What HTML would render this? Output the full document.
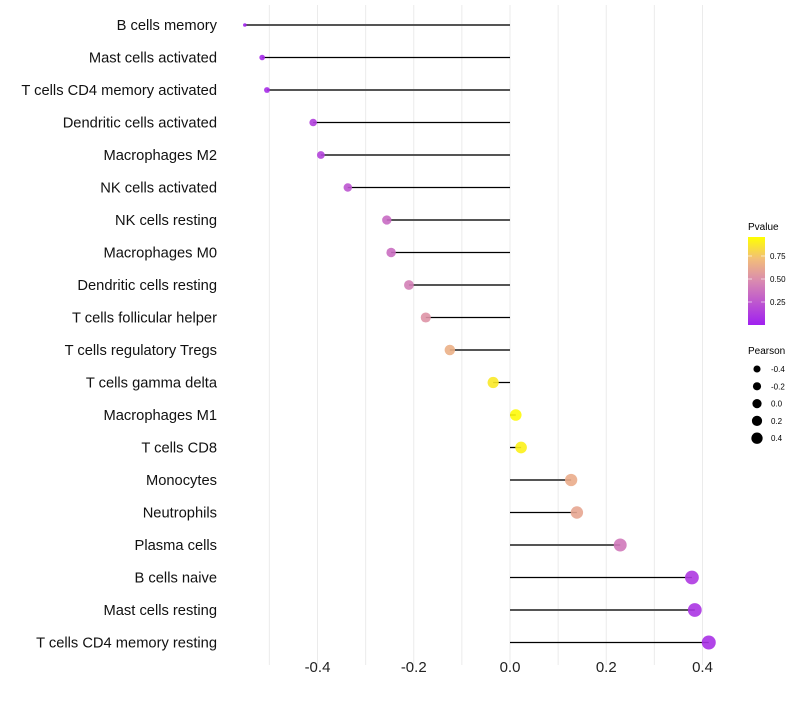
<!DOCTYPE html>
<html><head><meta charset="utf-8"><style>body{margin:0;background:#fff}svg{font-family:"Liberation Sans",sans-serif}</style></head>
<body>
<svg id="chart" width="800" height="700">
<defs><linearGradient id="pg" x1="0" y1="1" x2="0" y2="0">
<stop offset="0" stop-color="#A020F0"/><stop offset="0.5" stop-color="#D98AB0"/><stop offset="0.75" stop-color="#F2BD7A"/><stop offset="1" stop-color="#FFFF00"/></linearGradient></defs>
<g id="grid"></g><g id="marks"></g><g id="labels"></g>
<g>
<text x="748" y="230" font-size="10">Pvalue</text>
<rect x="748" y="237" width="17" height="88" fill="url(#pg)"/>
<g stroke="#fff" stroke-opacity="0.6"><line x1="748" x2="752" y1="256" y2="256"/><line x1="761" x2="765" y1="256" y2="256"/><line x1="748" x2="752" y1="279" y2="279"/><line x1="761" x2="765" y1="279" y2="279"/><line x1="748" x2="752" y1="302" y2="302"/><line x1="761" x2="765" y1="302" y2="302"/></g>
<text x="770" y="259" font-size="8">0.75</text><text x="770" y="282" font-size="8">0.50</text><text x="770" y="305" font-size="8">0.25</text>
</g>
<g id="sizeLegend"><text x="748" y="354" font-size="10">Pearson</text></g>
</svg>
<script>
const categories=["B cells memory","Mast cells activated","T cells CD4 memory activated","Dendritic cells activated","Macrophages M2","NK cells activated","NK cells resting","Macrophages M0","Dendritic cells resting","T cells follicular helper","T cells regulatory  Tregs ","T cells gamma delta","Macrophages M1","T cells CD8","Monocytes","Neutrophils","Plasma cells","B cells naive","Mast cells resting","T cells CD4 memory resting"];
const pearson=[-0.551,-0.515,-0.505,-0.409,-0.393,-0.337,-0.256,-0.247,-0.21,-0.175,-0.125,-0.035,0.012,0.023,0.127,0.139,0.229,0.378,0.384,0.413];
const pvalue=[0.02,0.05,0.06,0.15,0.17,0.25,0.35,0.37,0.45,0.55,0.7,0.92,0.98,0.95,0.68,0.65,0.42,0.12,0.1,0.08];
const xTicks=[-0.4,-0.2,0.0,0.2,0.4];
const sizeTicks=[-0.4,-0.2,0.0,0.2,0.4];
const NS="http://www.w3.org/2000/svg";
const X=v=>510+v*481.25, Y=i=>25+i*32.5;
const vmin=Math.min(...pearson), vmax=Math.max(...pearson);
const R=v=>1.8+5.2*Math.sqrt((v-vmin)/(vmax-vmin)), RL=v=>4.6+2.6*v;
function mk(t,a,p){const e=document.createElementNS(NS,t);for(const k in a)e.setAttribute(k,a[k]);p.appendChild(e);return e;}
function lerp(a,b,t){return a.map((x,i)=>Math.round(x+(b[i]-x)*t));}
function col(p){const s=[[0,[160,32,240]],[0.5,[217,138,176]],[0.75,[240,185,125]],[1,[255,255,0]]];for(let i=1;i<s.length;i++)if(p<=s[i][0]){const c=lerp(s[i-1][1],s[i][1],(p-s[i-1][0])/(s[i][0]-s[i-1][0]));return `rgb(${c})`;}return "rgb(255,255,0)";}
const g=document.getElementById('grid'),m=document.getElementById('marks'),lb=document.getElementById('labels');
for(let v=-0.5;v<=0.41;v+=0.1){const l=mk('line',{x1:X(v),x2:X(v),y1:5,y2:665,stroke:'#ebebeb','stroke-width':1},g);

}
xTicks.forEach(v=>{const t=mk('text',{x:X(v),y:672,'font-size':15,'text-anchor':'middle',fill:'#222'},lb);t.textContent=v.toFixed(1);

});
categories.forEach((c,i)=>{
const t=mk('text',{x:217,y:Y(i)+5,'font-size':14.7,'text-anchor':'end',fill:'#111'},lb);t.textContent=c;


const l=mk('line',{x1:X(0),x2:X(pearson[i]),y1:Y(i),y2:Y(i),stroke:i%2?'#000':'#555','stroke-width':i%2?1.3:2},m);


const d=mk('circle',{cx:X(pearson[i]),cy:Y(i),r:R(pearson[i]),fill:col(pvalue[i]),'fill-opacity':0.9},m);

});
const sl=document.getElementById('sizeLegend');
sizeTicks.forEach((v,i)=>{const y=369+i*17.3;
const c=mk('circle',{cx:757,cy:y,r:RL(v),fill:'#000'},sl);


const t=mk('text',{x:771,y:y+3,'font-size':8},sl);t.textContent=v.toFixed(1);

});
</script>
</body></html>
